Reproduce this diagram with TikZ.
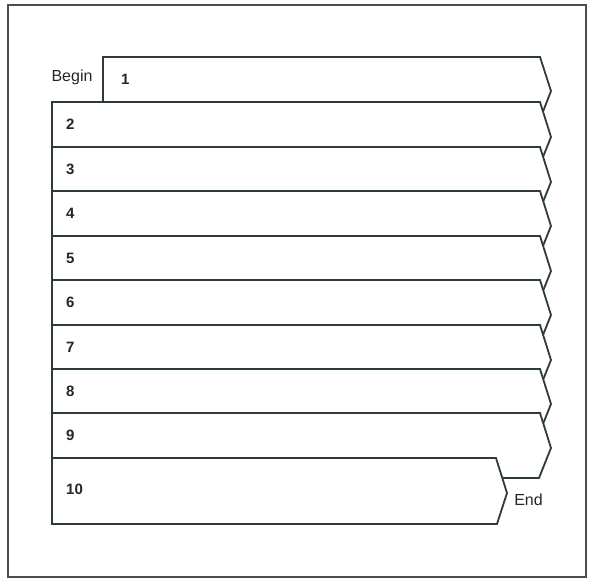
\documentclass[tikz,border=0pt]{standalone}
\usepackage{fontspec}
\setmainfont{Liberation Sans}
\definecolor{ink}{HTML}{2E3B3B}
\begin{document}
\begin{tikzpicture}[x=1pt,y=-1pt,
  band/.style={draw=ink,line width=1.8pt,fill=white,line join=miter},
  num/.style={anchor=west,font=\fontsize{15}{17}\selectfont\bfseries,text=black!85,inner sep=0pt},
  lbl/.style={font=\fontsize{16}{18}\selectfont,text=black!85,inner sep=0pt}]
\useasboundingbox (0,0) rectangle (589,578);
% frame
\draw[draw=black!70,line width=1.2pt] (8,5) rectangle (586,577);
% band 1
\draw[band] (103,57) -- (540,57) -- (551,91) -- (539,122) -- (103,122) -- cycle;
\node[num] (n1) at (121,79) {1};
\node[lbl] (begin) at (72,77) {Begin};
% bands 2..9
\foreach \i/\t in {2/102,3/147,4/191,5/236,6/280,7/325,8/369,9/413}{
  \draw[band] (52,\t) -- (540,\t) -- (551,\t+35) -- (539,\t+65) -- (52,\t+65) -- cycle;
  \node[num] (n\i) at (66,\t+22.5) {\i};
}
% band 10
\draw[band] (52,458) -- (496,458) -- (507,493) -- (497,524) -- (52,524) -- cycle;
\node[num] (n10) at (66,489) {10};
\node[lbl] (end) at (528.5,499.5) {End};
\end{tikzpicture}
\end{document}
